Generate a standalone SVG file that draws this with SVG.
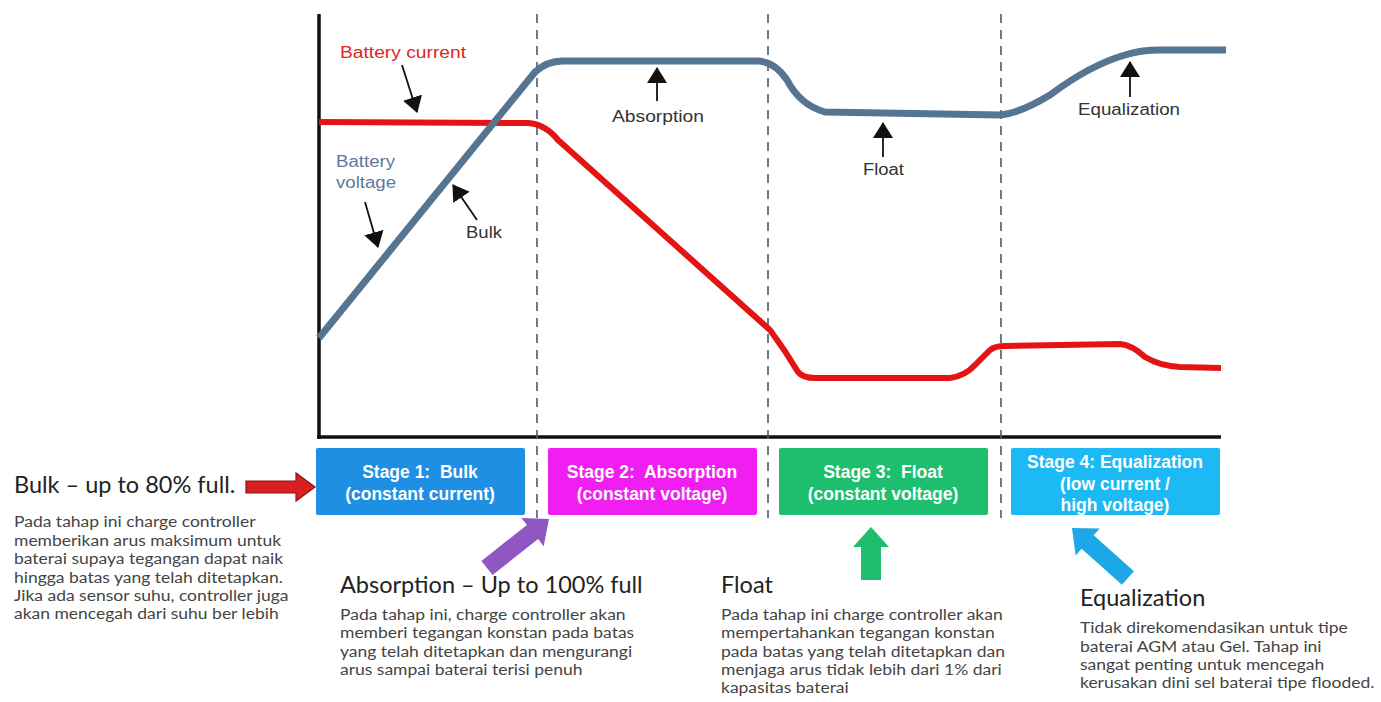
<svg xmlns="http://www.w3.org/2000/svg" width="1381" height="702" viewBox="0 0 1381 702">
<defs>
<style>
.lbl{font-family:"Liberation Sans",Arial,sans-serif;font-size:16px;fill:#333}
.stage{font-family:"Liberation Sans",Arial,sans-serif;font-size:17.5px;font-weight:bold;fill:#fff;text-anchor:middle;white-space:pre}
.h{font-family:Lato,"Open Sans",sans-serif;font-size:23.5px;fill:#222}
.b{font-family:Lato,"Open Sans",sans-serif;font-size:15px;fill:#444}
.dash{stroke:#4a5a6e;stroke-width:1.6;stroke-dasharray:9,7;fill:none}
.pt{stroke:#111;stroke-width:1.8;fill:none}
</style>
<marker id="ah" viewBox="0 0 16 20" refX="15" refY="10" markerWidth="16" markerHeight="20" markerUnits="userSpaceOnUse" orient="auto">
<path d="M0,0L16,10L0,20z" fill="#111"/>
</marker>
</defs>
<rect width="1381" height="702" fill="#fff"/>

<g id="axes">
<line x1="319" y1="14" x2="319" y2="439" stroke="#111" stroke-width="3.5"/>
<line x1="317" y1="437" x2="1221" y2="437" stroke="#111" stroke-width="3.5"/>
</g>

<g id="dividers">
<line class="dash" x1="537" y1="14" x2="537" y2="518"/>
<line class="dash" x1="768" y1="14" x2="768" y2="518"/>
<line class="dash" x1="1001" y1="14" x2="1001" y2="518"/>
</g>

<g id="curves">
<path d="M319,122 L528,123 Q545,124 558,140 L770,330 Q785,350 798,372 Q803,378 815,378 L950,378 Q965,376 975,365 L990,350 Q995,346 1005,346 L1120,344 Q1132,345 1145,357 Q1160,366 1180,367 L1221,368" fill="none" stroke="#e41414" stroke-width="6" stroke-linejoin="round"/>
<path d="M319,338 L535,72 Q548,60 565,61 L758,61 Q775,62 787,80 Q800,105 825,112 L1001,115 Q1020,113 1050,95 Q1090,65 1125,55 Q1140,50 1160,50 L1226,50" fill="none" stroke="#557591" stroke-width="7" stroke-linejoin="round"/>
</g>

<g id="curve-labels">
<text class="lbl" x="340" y="58" textLength="126" lengthAdjust="spacingAndGlyphs" style="fill:#e02424">Battery current</text>
<line class="pt" x1="402" y1="65" x2="417" y2="112" marker-end="url(#ah)"/>
<text class="lbl" x="336" y="167" textLength="59" lengthAdjust="spacingAndGlyphs" style="fill:#62789a">Battery</text>
<text class="lbl" x="336" y="188" textLength="60" lengthAdjust="spacingAndGlyphs" style="fill:#62789a">voltage</text>
<line class="pt" x1="365" y1="202" x2="378" y2="247" marker-end="url(#ah)"/>
<text class="lbl" x="466" y="238" textLength="36" lengthAdjust="spacingAndGlyphs">Bulk</text>
<line class="pt" x1="477" y1="220" x2="453" y2="185" marker-end="url(#ah)"/>
<text class="lbl" x="612" y="122" textLength="92" lengthAdjust="spacingAndGlyphs">Absorption</text>
<line class="pt" x1="657" y1="101" x2="657" y2="68" marker-end="url(#ah)"/>
<text class="lbl" x="863" y="175" textLength="41" lengthAdjust="spacingAndGlyphs">Float</text>
<line class="pt" x1="883" y1="157" x2="883" y2="123" marker-end="url(#ah)"/>
<text class="lbl" x="1078" y="115" textLength="102" lengthAdjust="spacingAndGlyphs">Equalization</text>
<line class="pt" x1="1130" y1="97" x2="1130" y2="62" marker-end="url(#ah)"/>
</g>

<g id="stage1">
<rect x="316" y="448" width="209" height="67" rx="2" fill="#1e8fe3"/>
<text class="stage" x="420" y="478">Stage 1:  Bulk</text>
<text class="stage" x="420" y="500">(constant current)</text>
</g>
<g id="stage2">
<rect x="548" y="448" width="209" height="67" rx="2" fill="#f01ef0"/>
<text class="stage" x="652" y="478">Stage 2:  Absorption</text>
<text class="stage" x="652" y="500">(constant voltage)</text>
</g>
<g id="stage3">
<rect x="779" y="448" width="209" height="67" rx="2" fill="#1dbf6e"/>
<text class="stage" x="883" y="478">Stage 3:  Float</text>
<text class="stage" x="883" y="500">(constant voltage)</text>
</g>
<g id="stage4">
<rect x="1011" y="448" width="209" height="67" rx="2" fill="#1cb9f5"/>
<text class="stage" x="1115" y="468">Stage 4: Equalization</text>
<text class="stage" x="1115" y="490">(low current /</text>
<text class="stage" x="1115" y="511">high voltage)</text>
</g>

<g id="pointers">
<path d="M246,481 L296,481 L296,473 L315,487 L296,501 L296,493 L246,493 Z" fill="#d92020" stroke="#8c1010" stroke-width="1.2"/>
<path d="M0,0 L18,21 L9,21 L9,79 L-9,79 L-9,21 L-18,21 Z" transform="translate(549,519) rotate(51.7)" fill="#8f57c2"/>
<path d="M0,0 L18,20 L10,20 L10,53 L-10,53 L-10,20 L-18,20 Z" transform="translate(871,527)" fill="#1dbf6e"/>
<path d="M0,0 L18,21 L9,21 L9,75 L-9,75 L-9,21 L-18,21 Z" transform="translate(1072,528) rotate(-48.2)" fill="#1ca7e6"/>
</g>

<g id="desc-bulk">
<text class="h" x="14" y="493">Bulk – up to 80% full.</text>
<g transform="translate(14,0) scale(1.1667,1)">
<text class="b" x="0" y="527">Pada tahap ini charge controller</text>
<text class="b" x="0" y="546">memberikan arus maksimum untuk</text>
<text class="b" x="0" y="564">baterai supaya tegangan dapat naik</text>
<text class="b" x="0" y="583">hingga batas yang telah ditetapkan.</text>
<text class="b" x="0" y="601">Jika ada sensor suhu, controller juga</text>
<text class="b" x="0" y="619">akan mencegah dari suhu ber lebih</text>
</g>
</g>
<g id="desc-absorption">
<text class="h" x="340" y="593">Absorption – Up to 100% full</text>
<g transform="translate(340,0) scale(1.1667,1)">
<text class="b" x="0" y="620">Pada tahap ini, charge controller akan</text>
<text class="b" x="0" y="638">memberi tegangan konstan pada batas</text>
<text class="b" x="0" y="657">yang telah ditetapkan dan mengurangi</text>
<text class="b" x="0" y="675">arus sampai baterai terisi penuh</text>
</g>
</g>
<g id="desc-float">
<text class="h" x="721" y="593">Float</text>
<g transform="translate(721,0) scale(1.1667,1)">
<text class="b" x="0" y="620">Pada tahap ini charge controller akan</text>
<text class="b" x="0" y="638">mempertahankan tegangan konstan</text>
<text class="b" x="0" y="657">pada batas yang telah ditetapkan dan</text>
<text class="b" x="0" y="675">menjaga arus tidak lebih dari 1% dari</text>
<text class="b" x="0" y="693">kapasitas baterai</text>
</g>
</g>
<g id="desc-equalization">
<text class="h" x="1080" y="606">Equalization</text>
<g transform="translate(1080,0) scale(1.1667,1)">
<text class="b" x="0" y="633">Tidak direkomendasikan untuk tipe</text>
<text class="b" x="0" y="652">baterai AGM atau Gel. Tahap ini</text>
<text class="b" x="0" y="670">sangat penting untuk mencegah</text>
<text class="b" x="0" y="688">kerusakan dini sel baterai tipe flooded.</text>
</g>
</g>
</svg>
